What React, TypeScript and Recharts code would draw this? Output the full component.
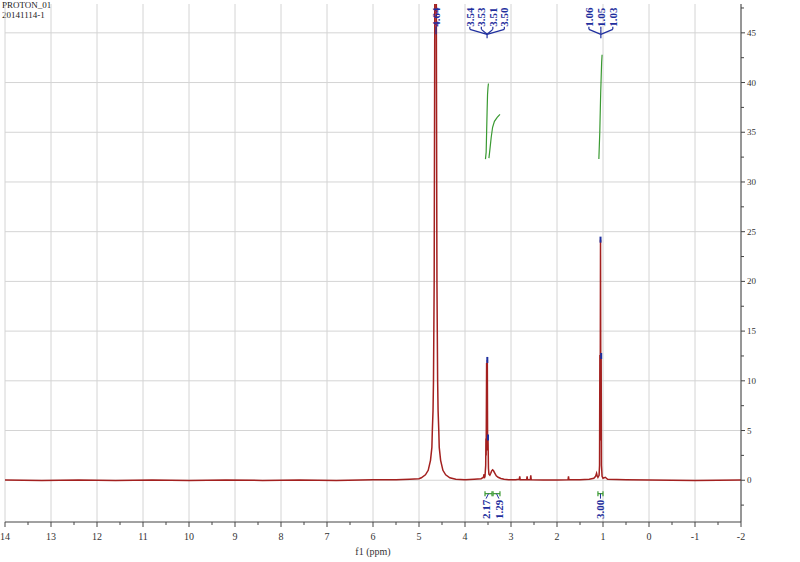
import { ComposedChart, Line, Scatter, XAxis, YAxis, ReferenceLine } from "recharts";

const FONT = '"Liberation Serif", "DejaVu Serif", serif';
const BLUE = "#1f2f9e";
const GREEN = "#3a9a32";
const RED = "#a3201f";

// spectrum as (ppm, intensity)
const baselineLeft: [number, number][] = [
  [14.0, 0.02], [13.2, -0.03], [12.4, 0.03], [11.6, -0.02], [10.8, 0.02],
  [10.0, -0.03], [9.2, 0.02], [8.4, -0.02], [7.6, 0.03], [6.8, -0.02],
  [6.0, 0.04], [5.5, 0.05], [5.2, 0.1], [5.0, 0.15],
];

const waterPeak: [number, number][] = [
  [4.95, 0.25], [4.86, 0.55], [4.8, 1.0], [4.75, 2.0], [4.72, 3.3], [4.71, 5],
  [4.695, 7], [4.685, 10], [4.67, 20], [4.66, 40], [4.648, 70], [4.64, 90],
  [4.632, 70], [4.62, 40], [4.61, 20], [4.595, 10], [4.585, 7], [4.57, 5],
  [4.56, 3.3], [4.53, 2.0], [4.48, 1.0], [4.42, 0.55], [4.33, 0.25],
];

const quartet: [number, number][] = [
  [4.2, 0.1], [4.0, 0.05], [3.8, 0.1], [3.65, 0.15], [3.6, 0.3], [3.585, 0.6],
  [3.58, 0.2], [3.565, 0.4], [3.55, 1.5], [3.545, 4.2], [3.54, 2.5],
  [3.53, 11.8], [3.522, 5], [3.515, 12.1], [3.508, 3], [3.5, 4.3],
  [3.49, 1.2], [3.48, 0.6],
];

const hump: [number, number][] = [
  [3.46, 0.5], [3.44, 0.7], [3.42, 0.95], [3.4, 1.05], [3.38, 0.95],
  [3.35, 0.7], [3.32, 0.45], [3.28, 0.3], [3.22, 0.18], [3.15, 0.1],
  [3.05, 0.05], [2.9, 0.05], [2.82, 0.1], [2.81, 0.4], [2.8, 0.05],
  [2.66, 0.05], [2.65, 0.4], [2.64, 0.05], [2.58, 0.05], [2.57, 0.5],
  [2.56, 0.05], [2.3, 0.02], [2.0, 0.03], [1.76, 0.05], [1.75, 0.4],
  [1.74, 0.05], [1.5, 0.05], [1.3, 0.1], [1.2, 0.2], [1.16, 0.4],
  [1.14, 0.7], [1.13, 0.5], [1.11, 0.3],
];

const triplet: [number, number][] = [
  [1.085, 0.5], [1.075, 1.5], [1.068, 12.6], [1.062, 4], [1.054, 24.2],
  [1.046, 4], [1.04, 12.5], [1.033, 1.5], [1.02, 0.4], [1.0, 0.2],
  [0.95, 0.3], [0.9, 0.1], [0.5, 0.05], [0.0, 0.02], [-1.0, -0.02], [-2.0, 0.02],
];

// integral curves
const integral1: [number, number][] = [
  [3.555, 32.3], [3.54, 33], [3.53, 35], [3.52, 37], [3.51, 38.8], [3.5, 39.5], [3.49, 39.9],
];
const integral2: [number, number][] = [
  [3.48, 32.4], [3.46, 33.2], [3.43, 34.5], [3.4, 35.5], [3.36, 36.1], [3.3, 36.5], [3.24, 36.8],
];
const integral3: [number, number][] = [
  [1.09, 32.3], [1.07, 35], [1.05, 39], [1.03, 42], [1.02, 42.8],
];

// peak picking
const peakGroups: number[][] = [[4.64], [3.54, 3.53, 3.51, 3.5], [1.06, 1.05, 1.03]];
const peakMarkers: [number, number][] = [[3.515, 12.1], [3.5, 4.3], [1.054, 24.2], [1.04, 12.5]];

// integration regions and values
const integralRanges: [number, number][] = [[3.565, 3.413], [3.39, 3.24], [1.11, 1.0]];
const integralValues = ["2.17", "1.29", "3.00"];

const xMajorTicks = [14, 13, 12, 11, 10, 9, 8, 7, 6, 5, 4, 3, 2, 1, 0, -1, -2];
const xMinorTicks = [13.5, 12.5, 11.5, 10.5, 9.5, 8.5, 7.5, 6.5, 5.5, 4.5, 3.5, 2.5, 1.5, 0.5, -0.5, -1.5];
const yMajorTicks = [0, 5, 10, 15, 20, 25, 30, 35, 40, 45];
const yMinorTicks = [-2.5, 2.5, 7.5, 12.5, 17.5, 22.5, 27.5, 32.5, 37.5, 42.5, 47.5];

const toPoints = (arr: [number, number][]) => arr.map(([x, y]) => ({ x, y }));

const spectrum = toPoints([...baselineLeft, ...waterPeak, ...quartet, ...hump, ...triplet]);

// spread overlapping label positions symmetrically around their mean
const spread = (centers: number[], gap: number) => {
  const mean = centers.reduce((a, b) => a + b, 0) / centers.length;
  let need = false;
  for (let i = 1; i < centers.length; i++) if (Math.abs(centers[i - 1] - centers[i]) < gap) need = true;
  if (!need) return centers;
  return centers.map((_, i) => mean + ((centers.length - 1) / 2 - i) * gap);
};

const LABEL_BASE = 45.6;
const ELBOW = 45.35;
const JOIN = 44.85;

const peakLabels: { x: number; y: number; text: string }[] = [];
const peakSegments: [number, number, number, number][] = [];
peakGroups.forEach((g) => {
  const join = g.reduce((a, b) => a + b, 0) / g.length;
  const pos = g.length > 1 ? spread(g, g.length > 3 ? 0.25 : 0.26) : [join - 0.01];
  pos.forEach((lx, i) => {
    peakLabels.push({ x: lx, y: LABEL_BASE, text: g[i].toFixed(2) });
    if (g.length > 1) {
      peakSegments.push([lx, LABEL_BASE, lx, ELBOW]);
      peakSegments.push([lx, ELBOW, join, JOIN]);
    } else {
      peakSegments.push([lx, LABEL_BASE, lx, JOIN]);
    }
  });
  if (g.length > 1) peakSegments.push([join, JOIN, join, 44.45]);
});

const BRACKET = -1.35;
const centers = integralRanges.map(([a, b]) => (a + b) / 2);
const intLabelX = [...spread(centers.slice(0, 2), 0.28), centers[2]];
const intLabels = integralValues.map((t, i) => ({ x: intLabelX[i], y: -1.95, text: t }));

const XTick = ({ x, y, payload }: any) => {
  const major = Number.isInteger(payload.value);
  return (
    <g>
      <line x1={x} x2={x} y1={y} y2={y + (major ? 5 : 3)} stroke="#444" />
      {major && (
        <text x={x} y={y + 14} textAnchor="middle" dominantBaseline="central" fontSize={10} fill="#333" fontFamily={FONT}>
          {payload.value}
        </text>
      )}
    </g>
  );
};

const YTick = ({ x, y, payload }: any) => {
  const major = payload.value % 5 === 0;
  return (
    <g>
      <line x1={x} x2={x + (major ? 4 : 3)} y1={y} y2={y} stroke="#444" />
      {major && (
        <text x={x + 6} y={y} textAnchor="start" dominantBaseline="central" fontSize={9} fill="#333" fontFamily={FONT}>
          {payload.value}
        </text>
      )}
    </g>
  );
};

const PeakText = (props: any) => (
  <text
    x={props.cx}
    y={props.cy}
    transform={`rotate(-90 ${props.cx} ${props.cy})`}
    textAnchor="start"
    dominantBaseline="central"
    fontSize={11}
    fontWeight="bold"
    fill={BLUE}
    fontFamily={FONT}
  >
    {props.payload.text}
  </text>
);

const IntText = (props: any) => (
  <text
    x={props.cx}
    y={props.cy}
    transform={`rotate(-90 ${props.cx} ${props.cy})`}
    textAnchor="end"
    dominantBaseline="central"
    fontSize={11}
    fontWeight="bold"
    fill={BLUE}
    fontFamily={FONT}
  >
    {props.payload.text}
  </text>
);

const Marker = (props: any) => (
  <line x1={props.cx} x2={props.cx} y1={props.cy - 3} y2={props.cy + 3} stroke={BLUE} strokeWidth={2} />
);

export default function App() {
  return (
    <div style={{ position: "absolute", left: 0, top: 0, width: 800, height: 562, background: "#fff" }}>
      <div
        style={{
          position: "absolute",
          left: 2,
          top: 0,
          fontFamily: FONT,
          fontSize: 9,
          lineHeight: "10px",
          color: "#222",
        }}
      >
        PROTON_01
        <br />
        20141114-1
      </div>
      <ComposedChart width={800} height={562} margin={{ top: 4, right: 19, bottom: 10, left: 5 }}>
        <XAxis
          type="number"
          dataKey="x"
          domain={[-2, 14]}
          reversed
          allowDataOverflow
          ticks={[...xMajorTicks, ...xMinorTicks]}
          interval={0}
          tick={(p: any) => <XTick {...p} />}
          tickLine={false}
          tickSize={0}
          tickMargin={0}
          axisLine={{ stroke: "#444" }}
          height={30}
          label={{ value: "f1  (ppm)", position: "insideBottom", offset: -3, fontSize: 10, fill: "#333", fontFamily: FONT }}
        />
        <YAxis
          orientation="right"
          type="number"
          domain={[-4.2, 47.9]}
          allowDataOverflow
          ticks={[...yMajorTicks, ...yMinorTicks]}
          interval={0}
          width={40}
          tick={(p: any) => <YTick {...p} />}
          tickLine={false}
          tickSize={0}
          tickMargin={0}
          axisLine={{ stroke: "#444" }}
        />
        {xMajorTicks.map((v) => (
          <ReferenceLine key={"gx" + v} x={v} stroke="#d4d4d4" />
        ))}
        {yMajorTicks.map((v) => (
          <ReferenceLine key={"gy" + v} y={v} stroke="#d4d4d4" />
        ))}
        <Line data={spectrum} dataKey="y" stroke={RED} strokeWidth={1.5} dot={false} isAnimationActive={false} />
        {[integral1, integral2, integral3].map((c, i) => (
          <Line
            key={"int" + i}
            data={toPoints(c)}
            dataKey="y"
            stroke={GREEN}
            strokeWidth={1.2}
            dot={false}
            isAnimationActive={false}
          />
        ))}
        {peakSegments.map(([x1, y1, x2, y2], i) => (
          <ReferenceLine
            key={"ps" + i}
            segment={[{ x: x1, y: y1 }, { x: x2, y: y2 }]}
            stroke={BLUE}
            strokeWidth={1.2}
          />
        ))}
        {integralRanges.map(([a, b], i) => (
          <ReferenceLine key={"br" + i} segment={[{ x: a, y: BRACKET }, { x: b, y: BRACKET }]} stroke={GREEN} strokeWidth={1.2} />
        ))}
        {integralRanges.flatMap(([a, b], i) =>
          [a, b].map((e, j) => (
            <ReferenceLine
              key={"bt" + i + "-" + j}
              segment={[{ x: e, y: BRACKET + 0.25 }, { x: e, y: BRACKET - 0.25 }]}
              stroke={GREEN}
              strokeWidth={1.2}
            />
          ))
        )}
        {integralRanges.map(([a, b], i) => (
          <ReferenceLine
            key={"bc" + i}
            segment={[{ x: (a + b) / 2, y: BRACKET }, { x: intLabelX[i], y: -1.85 }]}
            stroke={BLUE}
            strokeWidth={1}
          />
        ))}
        <Scatter data={toPoints(peakMarkers)} dataKey="y" shape={Marker} isAnimationActive={false} />
        <Scatter data={peakLabels} dataKey="y" shape={PeakText} isAnimationActive={false} />
        <Scatter data={intLabels} dataKey="y" shape={IntText} isAnimationActive={false} />
      </ComposedChart>
    </div>
  );
}
